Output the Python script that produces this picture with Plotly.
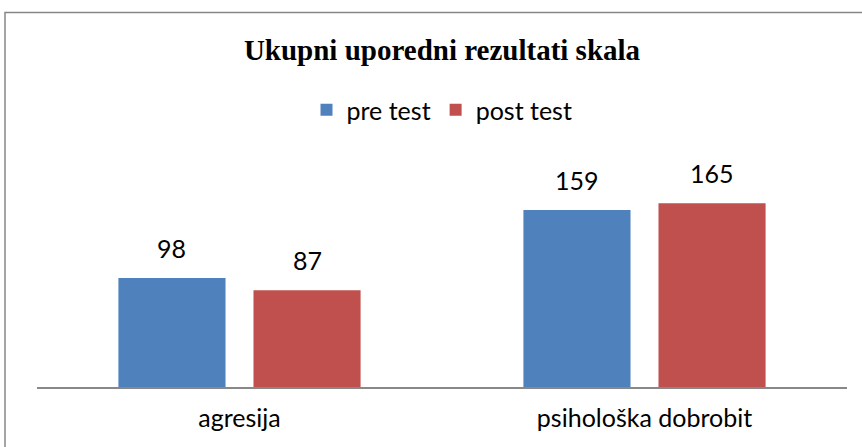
import plotly.graph_objects as go

categories = ["agresija", "psihološka dobrobit"]
series_names = ["pre test", "post test"]
pre_test = [98, 159]
post_test = [87, 165]
colors = ["#4F81BD", "#C0504D"]

W, H = 862, 447
L, R, T, B = 37, 15, 140, 60
plot_w = W - L - R
plot_h = H - T - B
px_per_unit = 1.1133
y_max = plot_h / px_per_unit

font_fam = "Lato, Carlito, Calibri, sans-serif"
BARGAP = 0.333
GROUPGAP = 0.207

fig = go.Figure()
for name, vals, col in zip(series_names, [pre_test, post_test], colors):
    fig.add_trace(go.Bar(name=name, x=categories, y=vals, marker_color=col,
                         marker_line_width=0))

# data labels above bars
cat_px = plot_w / 2
slot_px = cat_px * (1 - BARGAP) / 2
for i, vals in enumerate([pre_test, post_test]):
    shift = (i - 0.5) * slot_px
    for c, v in zip(categories, vals):
        fig.add_annotation(x=c, y=v, text=str(v), showarrow=False,
                           xshift=shift, yshift=13, yanchor="bottom",
                           font=dict(family=font_fam, size=25, color="black"))

fig.add_shape(type="rect", xref="paper", yref="paper",
              x0=(5 - L) / plot_w, x1=1.2,
              y0=-0.5, y1=(H - B - 12.5) / plot_h,
              line=dict(color="#868686", width=1.5), layer="below")

fig.update_layout(
    width=W, height=H,
    margin=dict(l=L, r=R, t=T, b=B),
    paper_bgcolor="white", plot_bgcolor="white",
    barmode="group", bargap=BARGAP, bargroupgap=GROUPGAP,
    title=dict(text="<b>Ukupni uporedni rezultati skala</b>",
               x=0.5, xref="paper", xanchor="center",
               y=1 - 50 / H, yref="container", yanchor="middle",
               font=dict(family="Liberation Serif, Times New Roman, serif",
                         size=29, color="black")),
    legend=dict(orientation="h", x=0.5, xanchor="center",
                y=(H - B - 110) / plot_h, yanchor="middle",
                font=dict(family=font_fam, size=25, color="black"),
                itemwidth=30, traceorder="normal"),
    xaxis=dict(range=[-0.5, 1.5], showline=True, linecolor="#888888",
               linewidth=1.5, ticks="", showgrid=False, zeroline=False,
               tickfont=dict(family=font_fam, size=25, color="black"),
               ticklabelstandoff=8),
    yaxis=dict(range=[0, y_max], visible=False, showgrid=False),
    showlegend=True,
)

fig.write_html("out.html", config={"displayModeBar": False},
               post_script="document.body.style.margin='0px';")
